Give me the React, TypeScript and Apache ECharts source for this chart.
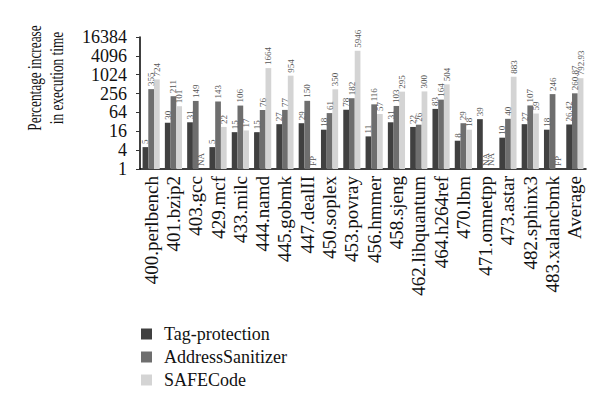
import React, { useEffect, useRef } from "react";
import * as echarts from "echarts";

const categories = [
  "400.perlbench", "401.bzip2", "403.gcc", "429.mcf", "433.milc", "444.namd",
  "445.gobmk", "447.dealII", "450.soplex", "453.povray", "456.hmmer", "458.sjeng",
  "462.libquantum", "464.h264ref", "470.lbm", "471.omnetpp", "473.astar",
  "482.sphinx3", "483.xalancbmk", "Average",
];
const tagValues = [5, 30, 31, 5, 15, 15, 27, 29, 18, 78, 11, 31, 22, 83, 8, 39, 10, 27, 18, 26.42];
const asanValues = [355, 211, 149, 143, 106, 76, 77, 150, 61, 182, 116, 103, 26, 164, 29, null, 40, 107, 246, 260.87];
const safeValues = [724, 101, null, 22, 17, 1664, 954, null, 350, 5946, 57, 295, 300, 504, 18, null, 883, 59, null, 792.93];
const tagNotes: (string | null)[] = categories.map(() => null);
const asanNotes: (string | null)[] = [null, null, null, null, null, null, null, null, null, null, null, null, null, null, null, "NA", null, null, null, null];
const safeNotes: (string | null)[] = [null, null, "NA", null, null, null, null, "FP", null, null, null, null, null, null, null, "NA", null, null, "FP", null];
const yTicks = [1, 4, 16, 64, 256, 1024, 4096, 16384];
const seriesNames = ["Tag-protection", "AddressSanitizer", "SAFECode"];
const seriesColors = ["#404040", "#6e6e6e", "#d4d4d4"];

const FONT = "'Liberation Serif', 'DejaVu Serif', serif";

function buildData(values: (number | null)[], notes: (string | null)[]) {
  return values.map((v, i) =>
    v == null
      ? { value: 1, label: { formatter: notes[i] || "" } }
      : { value: v, label: { formatter: String(v) } }
  );
}

export default function App() {
  const ref = useRef<HTMLDivElement>(null);
  useEffect(() => {
    if (!ref.current) return;
    const chart = echarts.init(ref.current, null, { renderer: "svg" });
    const all = [
      buildData(tagValues, tagNotes),
      buildData(asanValues, asanNotes),
      buildData(safeValues, safeNotes),
    ];
    chart.setOption({
      animation: false,
      backgroundColor: "#ffffff",
      textStyle: { fontFamily: FONT },
      grid: { left: 132, right: 22, top: 29, bottom: 238, containLabel: false },
      legend: {
        orient: "vertical",
        left: 133,
        top: 317,
        padding: 0,
        itemWidth: 11,
        itemHeight: 11,
        itemGap: 5,
        icon: "rect",
        data: seriesNames,
        textStyle: { fontFamily: FONT, fontSize: 18, color: "#111", padding: [0, 0, 0, 7] },
      },
      xAxis: {
        type: "category",
        data: categories,
        axisLine: { show: true, lineStyle: { color: "#000", width: 1.5 } },
        axisTick: { show: false },
        axisLabel: {
          interval: 0,
          rotate: 90,
          fontFamily: FONT,
          fontSize: 19,
          color: "#111",
          margin: 7,
        },
      },
      yAxis: {
        type: "log",
        logBase: 4,
        min: yTicks[0],
        max: yTicks[yTicks.length - 1],
        splitNumber: yTicks.length - 1,
        axisLine: { show: true, lineStyle: { color: "#000", width: 1.5 } },
        axisTick: { show: true, length: 4, lineStyle: { color: "#333" } },
        splitLine: { show: false },
        axisLabel: {
          fontFamily: FONT,
          fontSize: 18,
          lineHeight: 18,
          color: "#111",
          margin: 13,
          formatter: (v: number) => String(Math.round(v)),
        },
      },
      graphic: [
        {
          type: "text",
          x: 38,
          y: 70,
          rotation: Math.PI / 2,
          scaleX: 0.74,
          style: {
            text: "Percentage increase\nin execution time",
            font: `18px ${FONT}`,
            fill: "#111",
            align: "center",
            verticalAlign: "middle",
            lineHeight: 22,
          },
        },
      ],
      series: seriesNames.map((name, k) => ({
        name,
        type: "bar",
        data: all[k],
        barGap: "0%",
        barCategoryGap: "23%",
        itemStyle: { color: seriesColors[k] },
        label: {
          show: true,
          position: "top",
          rotate: 90,
          align: "left",
          verticalAlign: "middle",
          distance: 3,
          fontFamily: FONT,
          fontSize: 9,
          color: "#555",
        },
      })),
    });
    return () => chart.dispose();
  }, []);
  return <div ref={ref} style={{ width: 600, height: 399 }} />;
}
